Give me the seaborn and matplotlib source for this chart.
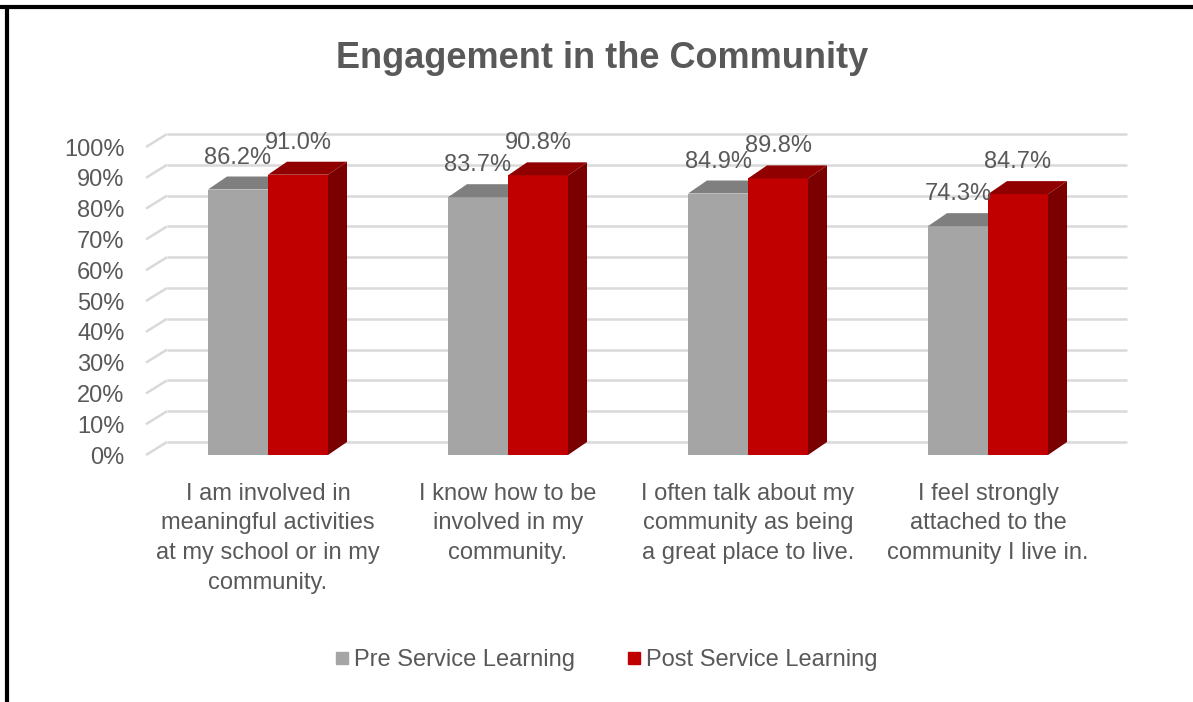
import numpy as np
import pandas as pd
import matplotlib
matplotlib.use("Agg")
import matplotlib.pyplot as plt
import seaborn as sns
from matplotlib.patches import Polygon
from matplotlib.lines import Line2D
from matplotlib.collections import LineCollection
from matplotlib.transforms import IdentityTransform, ScaledTranslation
from matplotlib.ticker import PercentFormatter

# data
categories = [
    "I am involved in\nmeaningful activities\nat my school or in my\ncommunity.",
    "I know how to be\ninvolved in my\ncommunity.",
    "I often talk about my\ncommunity as being\na great place to live.",
    "I feel strongly\nattached to the\ncommunity I live in.",
]
series = ["Pre Service Learning", "Post Service Learning"]
pre = [0.862, 0.837, 0.849, 0.743]
post = [0.910, 0.908, 0.898, 0.847]

df = pd.DataFrame({
    "statement": categories * 2,
    "group": [series[0]] * len(pre) + [series[1]] * len(post),
    "share": pre + post,
})

# colours: front, top, side
front = ["#A5A5A5", "#C00000"]
top = ["#7F7F7F", "#900000"]
side = ["#7F7F7F", "#7A0000"]
text_col = "#595959"
grid_col = "#D9D9D9"

sns.set_style("white")
plt.rcParams["font.family"] = ["Liberation Sans", "DejaVu Sans"]

DPI = 100
fig = plt.figure(figsize=(11.93, 7.02), dpi=DPI)
ax = fig.add_axes([148 / 1193, 1 - 455 / 702, 960 / 1193, 308 / 702])

sns.barplot(data=df, x="statement", y="share", hue="group", palette=front,
            width=0.5, saturation=1, linewidth=0, legend=False, ax=ax)

ax.set_ylim(0, 1)
ax.set_xlim(-0.5, len(categories) - 0.5)
yt = np.arange(0, 1.01, 0.1)
ax.set_yticks(yt)
ax.yaxis.set_major_formatter(PercentFormatter(1, decimals=0))
ax.set_xlabel("")
ax.set_ylabel("")
sns.despine(ax=ax, left=True, bottom=True)
ax.tick_params(axis="y", length=0, pad=17, labelsize=17, labelcolor=text_col)
ax.tick_params(axis="x", length=0, pad=20, labelsize=17, labelcolor=text_col)
for lab in ax.get_xticklabels():
    lab.set_linespacing(1.45)
    lab.set_multialignment("center")
ax.grid(False)
ax.patch.set_alpha(0)

# 3d depth in pixels
dx, dy = 19, 13
back = ax.transData + ScaledTranslation(dx / DPI, dy / DPI, fig.dpi_scale_trans)
ax.hlines(yt, -0.5, len(categories) - 0.5, colors=grid_col, linewidth=1.8,
          transform=back, zorder=0.5, clip_on=False)
segs = []
for y in yt:
    p = ax.transData.transform((-0.5, y))
    segs.append([p - np.array([2, 0]), p + np.array([dx, dy])])
ax.add_collection(LineCollection(segs, colors=grid_col, linewidth=1.8,
                                 transform=IdentityTransform(), zorder=0.5,
                                 clip_on=False))

d = np.array([dx, dy])
for i, cont in enumerate(ax.containers):
    for bar in cont:
        bar.set_zorder(2 + i)
        x0, w, h = bar.get_x(), bar.get_width(), bar.get_height()
        p0 = ax.transData.transform((x0, h))
        p1 = ax.transData.transform((x0 + w, h))
        pb = ax.transData.transform((x0 + w, 0))
        ax.add_patch(Polygon([p0, p1, p1 + d, p0 + d], closed=True, facecolor=top[i],
                             edgecolor="none", transform=IdentityTransform(),
                             zorder=2.5 + i, clip_on=False))
        ax.add_patch(Polygon([p1, pb, pb + d, p1 + d], closed=True, facecolor=side[i],
                             edgecolor="none", transform=IdentityTransform(),
                             zorder=2.5 + i, clip_on=False))
        ax.annotate(f"{h * 100:.1f}%", (x0 + w / 2, h), xytext=(0, 32),
                    textcoords="offset pixels", ha="center", va="center",
                    fontsize=17, color=text_col, zorder=6)

fig.text(0.505, 1 - 58 / 702, "Engagement in the Community", ha="center", va="center",
         fontsize=26, fontweight="bold", color=text_col)

handles = [Line2D([], [], marker="s", linestyle="none", markersize=8,
                  markerfacecolor=front[k], markeredgecolor=front[k]) for k in range(2)]
fig.legend(handles, series, loc="center", bbox_to_anchor=(0.508, 1 - 660 / 702),
           ncol=2, frameon=False, fontsize=17, labelcolor=text_col,
           handlelength=0.6, handletextpad=0.2, columnspacing=2.2)

# black frame on top and left edge
fig.add_artist(Line2D([0, 1], [1 - 7 / 702, 1 - 7 / 702], color="black", linewidth=3,
                      transform=fig.transFigure))
fig.add_artist(Line2D([7 / 1193, 7 / 1193], [0, 1 - 7 / 702], color="black", linewidth=3,
                      transform=fig.transFigure))

fig.savefig("out.png", dpi=DPI)
